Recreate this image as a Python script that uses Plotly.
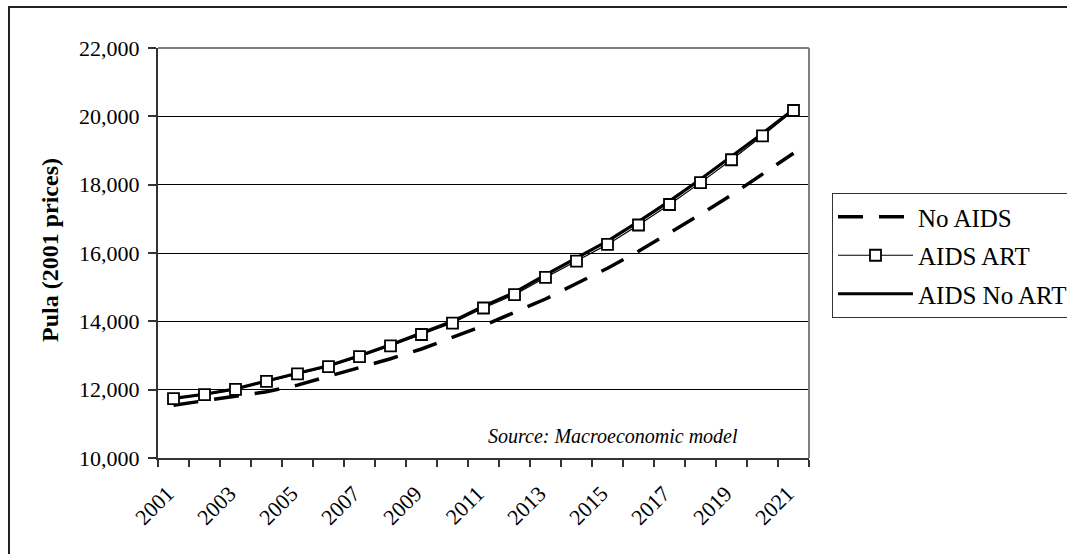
import plotly.graph_objects as go

years = list(range(2001, 2022))
no_aids = [11545, 11675, 11790, 11940, 12133, 12382, 12640, 12905, 13190, 13532,
           13872, 14264, 14653, 15107, 15555, 16050, 16580, 17130, 17700, 18300, 18920]
aids_art = [11740, 11855, 12010, 12245, 12460, 12675, 12965, 13280, 13615, 13950,
            14390, 14780, 15285, 15765, 16250, 16820, 17420, 18060, 18730, 19430, 20170]
aids_no_art = [11745, 11865, 12025, 12260, 12480, 12700, 12995, 13315, 13655, 14000,
               14445, 14845, 15360, 15850, 16350, 16920, 17520, 18160, 18820, 19500, 20200]
tick_years = list(range(2001, 2022, 2))
tick_text = [str(y) for y in tick_years]
y_ticks = [10000, 12000, 14000, 16000, 18000, 20000, 22000]

FONT = "Liberation Serif, Times New Roman, serif"

fig = go.Figure()
fig.add_trace(go.Scatter(x=years, y=no_aids, name="No AIDS", mode="lines",
                         line=dict(color="black", width=3.5, dash="25px,16px"),
                         legendrank=1, legendgroup="a"))
fig.add_trace(go.Scatter(x=years, y=aids_no_art, name="AIDS No ART", mode="lines",
                         line=dict(color="black", width=3.2), legendrank=3,
                         legendgroup="c"))
fig.add_trace(go.Scatter(x=years, y=aids_art, name="AIDS ART", mode="lines+markers",
                         line=dict(color="black", width=1.2),
                         marker=dict(symbol="square", size=11, color="white",
                                     line=dict(color="black", width=1.8)),
                         legendrank=2, legendgroup="b"))

W, H = 1067, 554
L, R, T, B = 158, 258, 48, 96
pw, ph = W - L - R, H - T - B

def px_x(p):
    return (p - L) / pw

def px_y(p):
    return (H - B - p) / ph

fig.update_layout(
    width=W, height=H,
    margin=dict(l=L, r=R, t=T, b=B, autoexpand=False),
    paper_bgcolor="white", plot_bgcolor="white",
    font=dict(family=FONT, color="black", size=22),
    showlegend=True,
    legend=dict(x=px_x(832), y=px_y(193), xanchor="left", yanchor="top",
                bordercolor="#333", borderwidth=1, bgcolor="white",
                font=dict(size=25, family=FONT), itemwidth=75,
                traceorder="grouped", tracegroupgap=3),
    xaxis=dict(range=[2000.5, 2021.5], tickmode="array", tickvals=tick_years,
               ticktext=tick_text, tickangle=-45, ticks="", showgrid=False,
               showline=True, linecolor="#333", linewidth=2, zeroline=False,
               tickfont=dict(size=22, family=FONT),
               ticklabelstandoff=12, ticklabelshift=-6,
               minor=dict(ticks="outside", ticklen=7, tickcolor="#333",
                          tickwidth=1.5, tick0=2000.5, dtick=1, showgrid=False)),
    yaxis=dict(range=[10000, 22000], tickmode="array", tickvals=y_ticks,
               tickformat=",", ticks="outside", ticklen=8, tickcolor="#333",
               tickwidth=1.5, showgrid=True, gridcolor="black", gridwidth=1,
               showline=True, linecolor="#333", linewidth=2, zeroline=False,
               tickfont=dict(size=22, family=FONT), ticklabelstandoff=4),
    shapes=[
        dict(type="line", xref="paper", yref="paper", x0=0, x1=1, y0=1, y1=1,
             line=dict(color="#808080", width=2), layer="above"),
        dict(type="line", xref="paper", yref="paper", x0=1, x1=1, y0=0, y1=1,
             line=dict(color="#808080", width=2), layer="above"),
        dict(type="rect", xref="paper", yref="paper", x0=px_x(9), x1=px_x(1100),
             y0=px_y(600), y1=px_y(7), line=dict(color="#222", width=2),
             layer="below"),
    ],
    annotations=[
        dict(text="<i>Source: Macroeconomic model</i>", xref="paper", yref="paper",
             x=px_x(613), y=px_y(436), showarrow=False,
             font=dict(size=20, family=FONT, color="black"),
             xanchor="center", yanchor="middle"),
        dict(text="<b>Pula (2001 prices)</b>", xref="paper", yref="paper",
             x=px_x(50), y=px_y(250), showarrow=False, textangle=-90,
             font=dict(size=24, family=FONT, color="black"),
             xanchor="center", yanchor="middle"),
    ],
)

fig.write_html("out.html")
